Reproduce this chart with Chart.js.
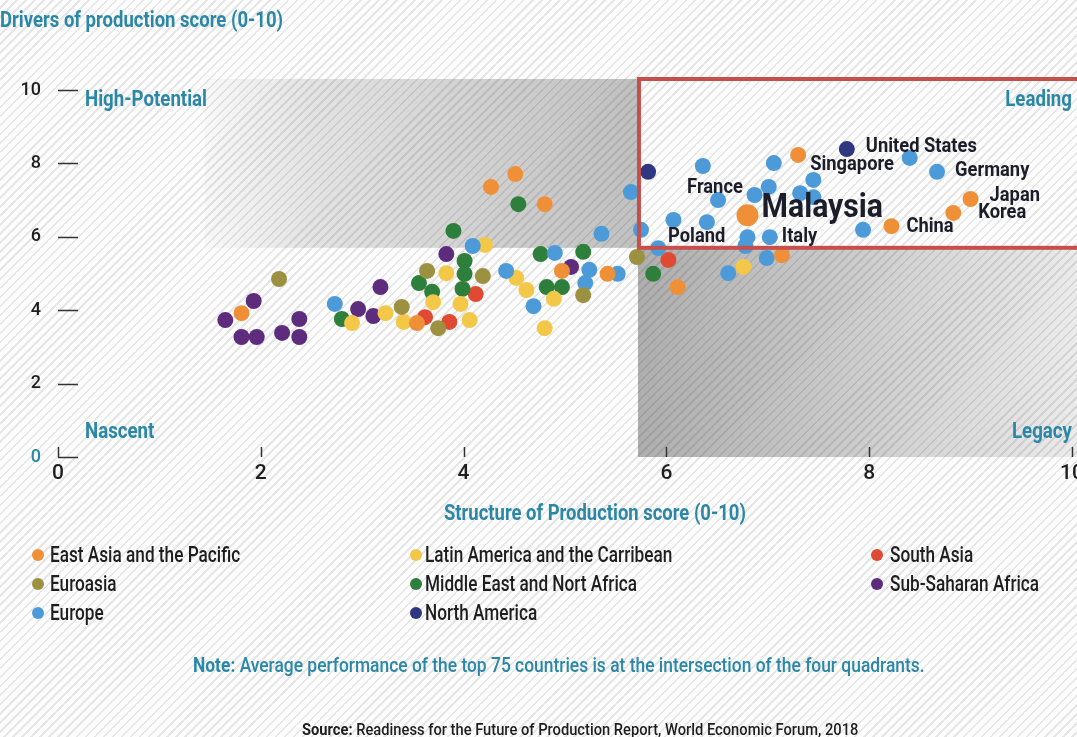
<!DOCTYPE html>
<html>
<head>
<meta charset="utf-8">
<script src="https://cdn.jsdelivr.net/npm/chart.js@4.4.1/dist/chart.umd.min.js"></script>
<style>
  html, body { margin: 0; padding: 0; width: 1077px; height: 737px; overflow: hidden; }
  body {
    position: relative;
    background-color: #fdfdfd;
    background-image: repeating-linear-gradient(135deg, #fdfdfd 0 4.6px, #e6e6e6 4.6px 6.4px);
    font-family: Roboto, 'Liberation Sans', sans-serif;
    color: #1e1e1e;
  }
  canvas { position: absolute; left: 0; top: 0; }
  .abs { position: absolute; white-space: nowrap; line-height: 26px; }
  .teal { color: #2a87a8; }
  .bold { font-weight: bold; }
  #ytitle { top: 7px; font-size: 22px; }
  #xtitle { top: 500px; font-size: 22px; }
  .legend-text { font-size: 22px; font-weight: 500; }
  .legend-dot { position: absolute; width: 12px; height: 12px; border-radius: 50%; }
  #note { top: 652px; font-size: 21px; font-weight: 500; }
  #source { top: 717px; font-size: 16px; font-weight: 500; }
</style>
</head>
<body>
<canvas id="chart" width="1095" height="737"></canvas>
<div id="ytitle" class="abs teal bold">Drivers of production score (0-10)</div>
<div id="xtitle" class="abs teal bold">Structure of Production score (0-10)</div>
<div id="legend"></div>
<div id="note" class="abs teal"><b>Note:</b> Average performance of the top 75 countries is at the intersection of the four quadrants.</div>
<div id="source" class="abs"><b>Source:</b> Readiness for the Future of Production Report, World Economic Forum, 2018</div>
<script>
const xTicks = [0, 2, 4, 6, 8, 10];
const yTicks = [0, 2, 4, 6, 8, 10];

// average of the top 75 countries (quadrant intersection)
const avgStructure = 5.72;
const avgDrivers = 5.7;
const shadeFrom = 1.45;

const regionNames = [
  'East Asia and the Pacific', 'Euroasia', 'Europe',
  'Latin America and the Carribean', 'Middle East and Nort Africa', 'North America',
  'South Asia', 'Sub-Saharan Africa'
];
const regionColors = ['#ef9038', '#9c9140', '#4c9bd8', '#f3c747', '#2f7f3c', '#2f3781', '#e04a33', '#5d2c7d'];

// [structure, drivers, label]
const eastAsia = [[1.81,3.92],[3.54,3.65],[4.27,7.36],[4.51,7.71],[4.80,6.89],[4.97,5.07],[5.42,4.99],[6.11,4.63],
  [7.14,5.50],[6.80,6.59,'Malaysia'],[7.30,8.23,'Singapore'],[8.22,6.29,'China'],[8.83,6.65,'Korea'],[9.00,7.03,'Japan']];
const euroasia = [[2.18,4.85],[3.39,4.09],[3.64,5.07],[3.75,3.51],[4.19,4.93],[5.18,4.41],[5.71,5.45]];
const europe = [[2.73,4.17],[4.09,5.75],[4.42,5.07],[4.69,4.11],[4.90,5.56],[5.24,5.10],[5.20,4.74],[5.36,6.08],
  [5.65,7.22],[5.52,4.99],[5.75,6.19,'Poland'],[5.92,5.69],[6.07,6.46],[6.36,7.93],[6.40,6.40],[6.51,7.00,'France'],
  [6.87,7.14],[7.01,7.36],[7.06,8.01],[6.80,5.99],[7.02,5.99,'Italy'],[6.78,5.75],[7.32,7.19],[7.45,7.55],[7.45,7.08],
  [7.94,6.19],[8.40,8.15],[8.67,7.77,'Germany'],[6.99,5.42],[6.61,5.01]];
const latinAmerica = [[2.90,3.65],[3.23,3.92],[3.41,3.68],[3.70,4.22],[3.83,5.01],[3.97,4.17],[4.06,3.73],[4.21,5.78],
  [4.52,4.88],[4.62,4.55],[4.80,3.51],[4.89,4.31],[6.76,5.18]];
const middleEast = [[2.80,3.76],[3.56,4.74],[3.69,4.50],[3.90,6.16],[3.99,4.58],[4.01,5.34],[4.01,4.99],[4.54,6.89],
  [4.76,5.53],[4.82,4.63],[4.97,4.63],[5.18,5.59],[5.87,4.99]];
const northAmerica = [[5.82,7.77],[7.78,8.39,'United States']];
const southAsia = [[3.62,3.81],[3.86,3.68],[4.12,4.44],[6.02,5.37]];
const subSaharan = [[1.65,3.73],[1.81,3.27],[1.93,4.25],[1.96,3.27],[2.21,3.38],[2.38,3.76],[2.38,3.27],[2.96,4.03],
  [3.11,3.84],[3.18,4.63],[3.83,5.53],[5.06,5.18]];

const regionPoints = [eastAsia, euroasia, europe, latinAmerica, middleEast, northAmerica, southAsia, subSaharan];
const highlighted = 'Malaysia';

const teal = '#2a87a8';
const dark = '#1e1e1e';
const fontFam = "Roboto, 'Liberation Sans', sans-serif";

// squeeze a text element horizontally so it spans the given width (the original uses a condensed face)
function fitText(el, left, width) {
  el.style.left = left + 'px';
  el.style.transformOrigin = '0 50%';
  el.style.transform = 'scaleX(' + (width / el.offsetWidth) + ')';
}
fitText(document.getElementById('ytitle'), 0, 283);
fitText(document.getElementById('xtitle'), 444, 302);
fitText(document.getElementById('note'), 193, 732);
fitText(document.getElementById('source'), 302, 556);

// legend
const legendEl = document.getElementById('legend');
const legendDotX = [38, 416, 877];
const legendTextX = [50, 425, 890];
const legendRows = [555, 584, 613];
let legendSqueeze = null;
regionNames.forEach((name, i) => {
  const col = Math.floor(i / 3), row = i % 3;
  const dot = document.createElement('div');
  dot.className = 'legend-dot';
  dot.style.background = regionColors[i];
  dot.style.left = (legendDotX[col] - 6) + 'px';
  dot.style.top = (legendRows[row] - 6) + 'px';
  legendEl.appendChild(dot);
  const t = document.createElement('div');
  t.className = 'abs legend-text';
  t.textContent = name;
  t.style.top = (legendRows[row] - 13) + 'px';
  legendEl.appendChild(t);
  if (legendSqueeze === null) legendSqueeze = 190 / t.offsetWidth;
  t.style.left = legendTextX[col] + 'px';
  t.style.transformOrigin = '0 50%';
  t.style.transform = 'scaleX(' + legendSqueeze + ')';
});

function narrowText(ctx, text, x, y, align, k) {
  ctx.save();
  ctx.translate(x, y);
  ctx.scale(k, 1);
  ctx.textAlign = align;
  ctx.fillText(text, 0, 0);
  ctx.restore();
}

// label placement relative to its dot: dx, dy, font size
const labelOffsets = {
  'United States': [19, -2, 20], 'Singapore': [12, 10, 20], 'Germany': [18, -1, 20],
  'Japan': [19, -3, 20], 'Korea': [25, 0, 20], 'China': [15, 1, 20], 'Malaysia': [14, -6, 33],
  'France': [-31, -12, 20], 'Poland': [27, 7, 20], 'Italy': [12, 0, 20]
};

const quadrantPlugin = {
  id: 'quadrants',
  beforeDatasetsDraw(chart) {
    const { ctx, chartArea: ca, scales: { x, y } } = chart;
    const mx = x.getPixelForValue(avgStructure);
    const my = y.getPixelForValue(avgDrivers);
    const x0 = x.getPixelForValue(shadeFrom);
    ctx.save();
    let g = ctx.createLinearGradient(x0, 0, mx, 0);
    g.addColorStop(0, 'rgba(0,0,0,0.02)');
    g.addColorStop(0.25, 'rgba(0,0,0,0.10)');
    g.addColorStop(1, 'rgba(0,0,0,0.24)');
    ctx.fillStyle = g;
    ctx.fillRect(x0, ca.top, mx - x0, my - ca.top);
    g = ctx.createLinearGradient(mx, 0, ca.right, 0);
    g.addColorStop(0, 'rgba(0,0,0,0.31)');
    g.addColorStop(1, 'rgba(0,0,0,0.07)');
    ctx.fillStyle = g;
    ctx.fillRect(mx, my, ca.right - mx, ca.bottom - my);

    // tick marks
    ctx.strokeStyle = '#333';
    ctx.lineWidth = 1.5;
    ctx.beginPath();
    yTicks.forEach(v => {
      const py = Math.round(y.getPixelForValue(v)) + 0.5;
      ctx.moveTo(ca.left, py);
      ctx.lineTo(ca.left + 20, py);
    });
    xTicks.forEach(v => {
      const px = Math.round(x.getPixelForValue(v)) + 0.5;
      ctx.moveTo(px, ca.bottom - 10);
      ctx.lineTo(px, ca.bottom);
    });
    ctx.stroke();

    // quadrant names
    ctx.fillStyle = teal;
    ctx.font = 'bold 22px ' + fontFam;
    ctx.textBaseline = 'middle';
    const k = 122 / ctx.measureText('High-Potential').width;
    const xr = x.getPixelForValue(10);
    narrowText(ctx, 'High-Potential', ca.left + 27, ca.top + 21, 'left', k);
    narrowText(ctx, 'Nascent', ca.left + 27, ca.bottom - 25, 'left', k);
    narrowText(ctx, 'Leading', xr, ca.top + 21, 'right', k);
    narrowText(ctx, 'Legacy', xr, ca.bottom - 25, 'right', k);
    ctx.restore();
  },
  afterDatasetsDraw(chart) {
    const { ctx, chartArea: ca, scales: { x, y } } = chart;
    const mx = x.getPixelForValue(avgStructure);
    const my = y.getPixelForValue(avgDrivers);
    ctx.save();
    ctx.strokeStyle = '#c64f4c';
    ctx.lineWidth = 4;
    ctx.strokeRect(mx + 1, ca.top, ca.right + 20 - mx, my - ca.top);

    ctx.fillStyle = '#1c1c2a';
    ctx.textBaseline = 'middle';
    ctx.font = 'bold 20px ' + fontFam;
    const k = 111 / ctx.measureText('United States').width;
    chart.data.datasets.forEach((ds, di) => {
      const meta = chart.getDatasetMeta(di);
      ds.data.forEach((p, j) => {
        if (!p.name) return;
        const [dx, dy, size] = labelOffsets[p.name];
        const el = meta.data[j];
        ctx.font = 'bold ' + size + 'px ' + fontFam;
        narrowText(ctx, p.name, el.x + dx, el.y + dy, 'left', k);
      });
    });
    ctx.restore();
  }
};

new Chart(document.getElementById('chart'), {
  type: 'scatter',
  data: {
    datasets: regionNames.map((name, i) => ({
      label: name,
      data: regionPoints[i].map(([x, y, n]) => ({ x: x, y: y, name: n })),
      backgroundColor: regionColors[i],
      borderWidth: 0,
      pointRadius: c => (c.raw && c.raw.name === highlighted ? 11 : 8)
    }))
  },
  options: {
    responsive: false,
    animation: false,
    layout: { padding: { left: 0, right: 18, top: 79, bottom: 240 } },
    plugins: { legend: { display: false }, tooltip: { enabled: false } },
    scales: {
      x: {
        min: 0, max: 10.05,
        afterBuildTicks: s => { s.ticks = xTicks.map(v => ({ value: v })); },
        afterFit: s => { s.height = 40; },
        grid: { display: false, drawTicks: false },
        border: { display: false },
        ticks: { padding: 4, color: dark, font: { family: fontFam, size: 21, weight: 500 } }
      },
      y: {
        min: 0, max: 10.3,
        afterBuildTicks: s => { s.ticks = yTicks.map(v => ({ value: v })); },
        afterFit: s => { s.width = 58; },
        grid: { display: false, drawTicks: false },
        border: { display: false },
        ticks: {
          padding: 17,
          color: c => (c.tick.value === 0 ? teal : dark),
          font: { family: fontFam, size: 18, weight: 500 }
        }
      }
    }
  },
  plugins: [quadrantPlugin]
});
</script>
</body>
</html>
